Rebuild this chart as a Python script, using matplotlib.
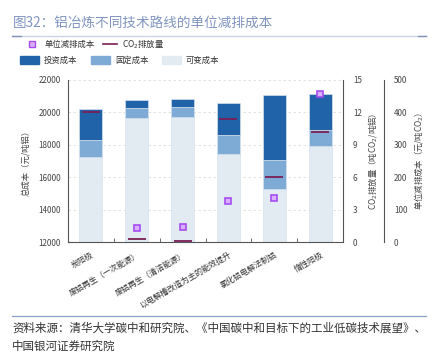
import matplotlib
matplotlib.use('Agg')
import matplotlib.pyplot as plt
from matplotlib.lines import Line2D
from matplotlib.patches import Patch
import numpy as np

plt.rcParams['font.family'] = ['Noto Sans CJK SC', 'DejaVu Sans']

categories = ['炭阳极', '废铝再生（一次能源）', '废铝再生（清洁能源）',
              '以电解槽改造为主的能效提升', '氯化铝电解法制铝', '惰性阳极']
variable_cost = [17230, 19680, 19740, 17430, 15290, 17920]
fixed_cost = [1070, 590, 590, 1195, 1770, 980]
invest_cost = [1910, 495, 500, 1975, 4015, 2235]
co2_emission = [12.0, 0.25, 0.07, 11.4, 6.0, 10.2]
unit_cost = [np.nan, 42, 47, 126, 136, 458]

c_inv = '#2163a8'
c_fix = '#7eaad6'
c_var = '#e2ebf2'
c_line = '#7a1f55'
c_sq_edge = '#a64cf0'
c_sq_face = '#d9b0fa'
grey = '#555555'

fig = plt.figure(figsize=(4.35, 3.55), dpi=100)
ax = fig.add_axes([0.156, 0.318, 0.633, 0.457])

x = np.arange(len(categories))
w = 0.5
var = np.array(variable_cost)
fix = np.array(fixed_cost)
inv = np.array(invest_cost)
ax.bar(x, var, w, color=c_var, edgecolor='#d5e2ee', linewidth=0.5, zorder=2)
ax.bar(x, fix, w, bottom=var, color=c_fix, edgecolor='#d5e2ee', linewidth=0.5, zorder=2)
ax.bar(x, inv, w, bottom=var + fix, color=c_inv, edgecolor='#d5e2ee', linewidth=0.5, zorder=2)

ax.set_xlim(-0.5, len(categories) - 0.5)
ax.set_ylim(12000, 22000)
ax.set_yticks(np.arange(12000, 22001, 2000))
ax.yaxis.grid(True, linestyle=(0, (3, 3)), color='#dddddd', linewidth=0.6, zorder=0)
ax.set_axisbelow(True)
ax.set_xticks(x)
ax.set_xticklabels(categories, rotation=30, ha='right', rotation_mode='anchor',
                   fontsize=5.8, color='#333333')
ax.set_xticks(x[:-1] + 0.5, minor=True)
ax.tick_params(axis='x', which='major', length=0, pad=6)
ax.tick_params(axis='x', which='minor', length=3, direction='in', color=grey)
ax.tick_params(axis='y', length=0, labelsize=5.8, labelcolor='#444444', pad=5)
for s in ['top', 'right']:
    ax.spines[s].set_visible(False)
for s in ['left', 'bottom']:
    ax.spines[s].set_color(grey)
    ax.spines[s].set_linewidth(0.8)
ax.set_ylabel('总成本（元/吨铝）', fontsize=6, color='#444444', labelpad=6)

ax2 = ax.twinx()
ax2.set_ylim(0, 15)
ax2.set_yticks(np.arange(0, 16, 3))
ax2.plot(x, co2_emission, linestyle='none', marker='_', markersize=13,
         markeredgewidth=1.3, color=c_line, zorder=4)
for s in ['top', 'left', 'bottom']:
    ax2.spines[s].set_visible(False)
ax2.spines['right'].set_color(grey)
ax2.spines['right'].set_linewidth(0.8)
ax2.tick_params(axis='y', length=0, labelsize=5.8, labelcolor='#444444', pad=7)
ax2.set_ylabel('CO$_2$排放量（吨CO$_2$/吨铝）', fontsize=6, color='#444444', labelpad=3)

ax3 = ax.twinx()
ax3.spines['right'].set_position(('axes', 1.149))
ax3.set_ylim(0, 500)
ax3.set_yticks(np.arange(0, 501, 100))
ax3.plot(x, unit_cost, linestyle='none', marker='s', markersize=5,
         markerfacecolor=c_sq_face, markeredgecolor=c_sq_edge,
         markeredgewidth=1.2, zorder=5)
for s in ['top', 'left', 'bottom']:
    ax3.spines[s].set_visible(False)
ax3.spines['right'].set_color(grey)
ax3.spines['right'].set_linewidth(0.8)
ax3.tick_params(axis='y', length=0, labelsize=5.8, labelcolor='#444444', pad=7)
ax3.set_ylabel('单位减排成本（元/吨CO$_2$）', fontsize=6, color='#444444', labelpad=3)

# legends
h1 = [Line2D([], [], linestyle='none', marker='s', markersize=4,
             markerfacecolor=c_sq_face, markeredgecolor=c_sq_edge, markeredgewidth=1),
      Line2D([], [], color=c_line, linewidth=1.2)]
fig.legend(h1, ['单位减排成本', 'CO$_2$排放量'], loc='upper left',
           bbox_to_anchor=(0.05, 0.905), ncol=2, frameon=False,
           fontsize=6, handlelength=1.7, columnspacing=1.0,
           handletextpad=0.6, borderaxespad=0, labelcolor='#333333')
h2 = [Patch(color=c_inv), Patch(color=c_fix), Patch(color=c_var)]
fig.legend(h2, ['投资成本', '固定成本', '可变成本'], loc='upper left',
           bbox_to_anchor=(0.038, 0.852), ncol=3, frameon=False,
           fontsize=6, handlelength=2.3, handleheight=1.0,
           columnspacing=1.6, handletextpad=0.6, borderaxespad=0,
           labelcolor='#333333')

# title and source
fig.text(0.03, 0.925, '图32：铝冶炼不同技术路线的单位减排成本', fontsize=9.8,
         color='#8094c0', va='baseline')
fig.add_artist(Line2D([0.028, 0.98], [0.898, 0.898], color='#c8d3e8', linewidth=0.9))
fig.add_artist(Line2D([0.028, 0.048], [0.898, 0.898], color='#7f90b8', linewidth=1.0))
fig.add_artist(Line2D([0.96, 0.98], [0.898, 0.898], color='#7f90b8', linewidth=1.0))
fig.add_artist(Line2D([0.028, 0.98], [0.11, 0.11], color='#8ba0c8', linewidth=0.9))
fig.text(0.028, 0.066, '资料来源：清华大学碳中和研究院、《中国碳中和目标下的工业低碳技术展望》、',
         fontsize=8.3, color='#333333', style='italic', va='baseline')
fig.text(0.028, 0.014, '中国银河证券研究院', fontsize=8.3, color='#333333',
         style='italic', va='baseline')

fig.savefig('out.png', dpi=100)
